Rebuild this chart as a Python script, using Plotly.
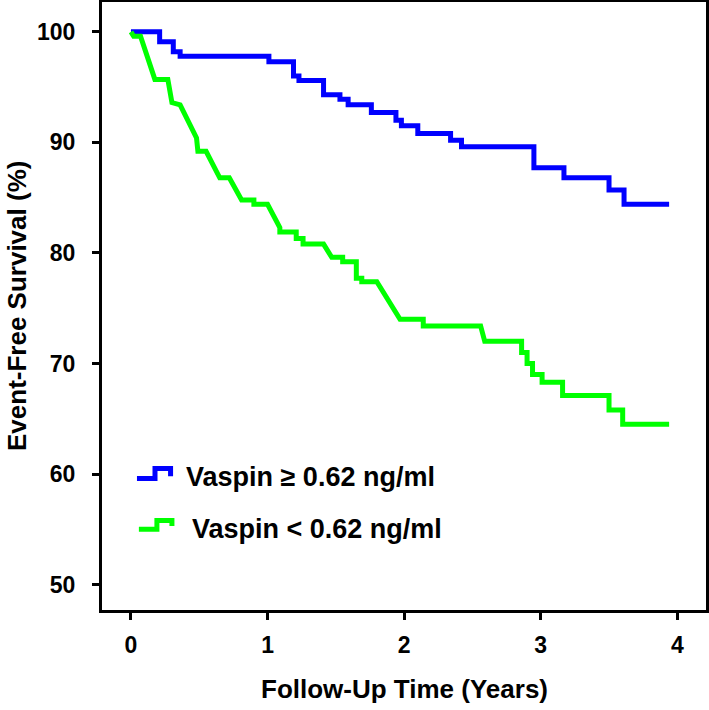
import plotly.graph_objects as go

# event-free survival (years, %)
# high vaspin group - step function
high_time = [0.0, 0.21, 0.31, 0.36, 1.01, 1.19, 1.23, 1.41, 1.53, 1.59, 1.76, 1.94, 1.98,
             2.10, 2.34, 2.42, 2.95, 3.17, 3.50, 3.61, 3.94]
high_surv = [100.0, 99.1, 98.2, 97.8, 97.3, 96.0, 95.6, 94.3, 93.9, 93.4, 92.7, 92.0, 91.5,
             90.8, 90.2, 89.6, 87.7, 86.8, 85.7, 84.4, 84.4]

# low vaspin group - traced outline (dense events look like slopes)
low_time = [0.0, 0.02, 0.07, 0.175, 0.27, 0.30, 0.36, 0.48, 0.49, 0.55, 0.65, 0.72, 0.81, 0.90,
            0.90, 1.00, 1.09, 1.09, 1.21, 1.21, 1.26, 1.26, 1.41, 1.47, 1.55, 1.55, 1.65, 1.65,
            1.69, 1.69, 1.80, 1.97, 2.14, 2.14, 2.56, 2.59, 2.86, 2.86, 2.90, 2.90, 2.94, 2.94,
            3.01, 3.01, 3.16, 3.16, 3.50, 3.50, 3.60, 3.60, 3.94]
low_surv = [100.0, 99.6, 99.6, 95.7, 95.7, 93.6, 93.4, 90.4, 89.2, 89.2, 86.8, 86.8, 84.8, 84.8,
            84.4, 84.4, 82.3, 81.9, 81.9, 81.3, 81.3, 80.8, 80.8, 79.6, 79.6, 79.2, 79.2, 77.7,
            77.7, 77.4, 77.4, 74.0, 74.0, 73.4, 73.4, 72.0, 72.0, 71.0, 71.0, 70.0, 70.0, 69.0,
            69.0, 68.3, 68.3, 67.1, 67.1, 65.8, 65.8, 64.5, 64.5]

group_labels = ["Vaspin \u2265 0.62 ng/ml", "Vaspin < 0.62 ng/ml"]
x_ticks = [0, 1, 2, 3, 4]
y_ticks = [50, 60, 70, 80, 90, 100]

BLUE = "#0000ff"
GREEN = "#00ff00"
FONT = "Arial, Liberation Sans, sans-serif"
bold = lambda s: dict(family=FONT, size=s, color="black", weight="bold")

fig = go.Figure()
fig.add_trace(go.Scatter(x=high_time, y=high_surv, mode="lines", line_shape="hv",
                         line=dict(color=BLUE, width=5), name=group_labels[0], showlegend=False))
fig.add_trace(go.Scatter(x=low_time, y=low_surv, mode="lines",
                         line=dict(color=GREEN, width=5), name=group_labels[1], showlegend=False))

# hand drawn legend: little step glyph + label
fig.add_shape(type="path", path="M 0.044 59.6 L 0.176 59.6 L 0.176 60.5 L 0.29 60.5 L 0.29 59.8",
              line=dict(color=BLUE, width=5), xref="x", yref="y")
fig.add_shape(type="path", path="M 0.058 55.0 L 0.19 55.0 L 0.19 55.8 L 0.30 55.8 L 0.30 55.3",
              line=dict(color=GREEN, width=5), xref="x", yref="y")
fig.add_annotation(x=0.39, y=59.7, text=group_labels[0], showarrow=False, xanchor="left",
                   font=bold(27))
fig.add_annotation(x=0.43, y=55.0, text=group_labels[1], showarrow=False, xanchor="left",
                   font=bold(27))

# axis titles
fig.add_annotation(x=0.5, y=-0.13, xref="paper", yref="paper", text="Follow-Up Time (Years)",
                   showarrow=False, yanchor="middle", font=bold(26))
fig.add_annotation(x=-0.1407, y=0.5, xref="paper", yref="paper", text="Event-Free Survival (%)",
                   showarrow=False, textangle=-90, xanchor="center", yanchor="middle", font=bold(26))

fig.update_xaxes(range=[-0.212, 4.21], tickvals=x_ticks, ticks="outside", ticklen=7, tickwidth=3,
                 tickcolor="black", showline=True, linecolor="black", linewidth=3, mirror=True,
                 showgrid=False, zeroline=False, automargin=False, ticklabelstandoff=5,
                 tickfont=bold(23))
fig.update_yaxes(range=[47.7, 102.7], tickvals=y_ticks, ticks="outside", ticklen=7, tickwidth=3,
                 tickcolor="black", showline=True, linecolor="black", linewidth=3, mirror=True,
                 showgrid=False, zeroline=False, automargin=False, ticklabelstandoff=12,
                 tickfont=bold(23))

fig.update_layout(width=709, height=710, plot_bgcolor="white", paper_bgcolor="white",
                  margin=dict(l=102, r=3, t=2, b=100))

# page has a default 8px body margin, drop it so the figure sits at the window corner
fig.write_html("out.html", config={"displayModeBar": False},
               post_script="document.body.style.margin='0px';")
